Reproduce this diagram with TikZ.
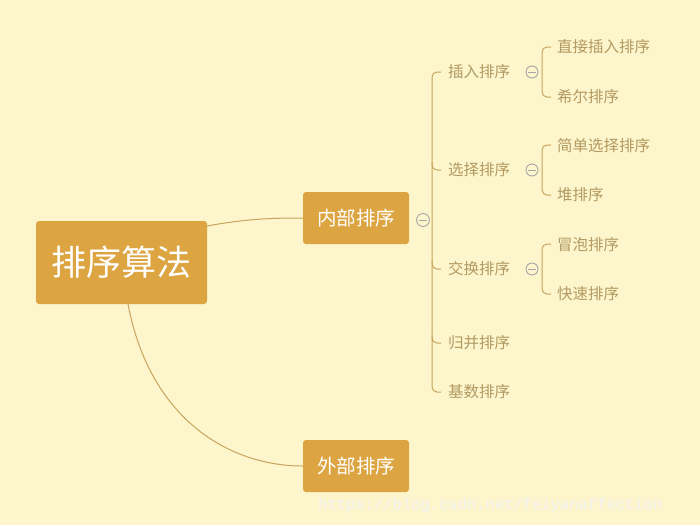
\documentclass[tikz,border=0pt]{standalone}
\usepackage{fontspec}
\newfontfamily\cjk{Noto Sans CJK SC}
\newfontfamily\cjkl{Noto Sans CJK SC Light}
\setmonofont{Liberation Mono}
\begin{document}
\begin{tikzpicture}[x=1pt,y=-1pt,
  box/.style={fill=boxc,rounded corners=3pt,text=white,font=\cjk,inner sep=0pt},
  lab/.style={anchor=west,text=labc,font=\cjk\fontsize{15.5}{15}\selectfont,inner sep=0pt},
  ln/.style={draw=linec,line width=1pt},
  minus/.style={circle,draw=gray!70,line width=0.9pt,minimum size=13pt,inner sep=0pt}]
\definecolor{bgc}{HTML}{FDF5CC}
\definecolor{boxc}{HTML}{DCA541}
\definecolor{linec}{HTML}{C8A45C}
\definecolor{labc}{HTML}{B39A62}
\fill[bgc] (0,0) rectangle (700,525);
\useasboundingbox (0,0) rectangle (700,525);
\node[box,minimum width=171pt,minimum height=83pt,font=\cjk\fontsize{35}{35}\selectfont] (root) at (121.5,262.5) {排序算法};
\node[box,minimum width=106pt,minimum height=52pt,font=\cjk\fontsize{19.5}{19}\selectfont] (in) at (356,218) {内部排序};
\node[box,minimum width=106pt,minimum height=52pt,font=\cjk\fontsize{19.5}{19}\selectfont] (out) at (356,466) {外部排序};
\draw[ln] (207,226) .. controls (250,218) and (280,218) .. (in.west);
\draw[ln] (128,304) .. controls (150,420) and (230,466) .. (out.west);
\node[minus] (m0) at (423,220) {};
\draw[gray!70,line width=0.9pt] (419,220) -- (427,220);
\draw[ln,rounded corners=5pt] (441,72) -- (432,72) -- (432,392) -- (441,392);
\foreach \y in {170,269,343} \draw[ln,rounded corners=5pt] (432,\y-8) -- (432,\y) -- (441,\y);
\node[lab] (a) at (448,72) {插入排序};
\node[lab] (b) at (448,170) {选择排序};
\node[lab] (c) at (448,269) {交换排序};
\node[lab] (d) at (448,343) {归并排序};
\node[lab] (e) at (448,392) {基数排序};
\foreach \y/\n in {72/ma,170/mb,269/mc}{
  \node[minus,minimum size=12pt] (\n) at (532,\y) {};
  \draw[gray!70,line width=0.9pt] (528,\y) -- (536,\y);
  \draw[ln,rounded corners=5pt] (551,\y-25) -- (542,\y-25) -- (542,\y+25) -- (551,\y+25);
}
\node[lab] (s1) at (557,47) {直接插入排序};
\node[lab] (s2) at (557,97) {希尔排序};
\node[lab] (s3) at (557,146) {简单选择排序};
\node[lab] (s4) at (557,195) {堆排序};
\node[lab] (s5) at (557,245) {冒泡排序};
\node[lab] (s6) at (557,294) {快速排序};
\node[anchor=west,inner sep=0pt,text=white!90!gray,font=\ttfamily\fontsize{15.5}{15}\selectfont] (wm) at (318,505) {https://blog.csdn.net/feiyanaffection};
\end{tikzpicture}
\end{document}
